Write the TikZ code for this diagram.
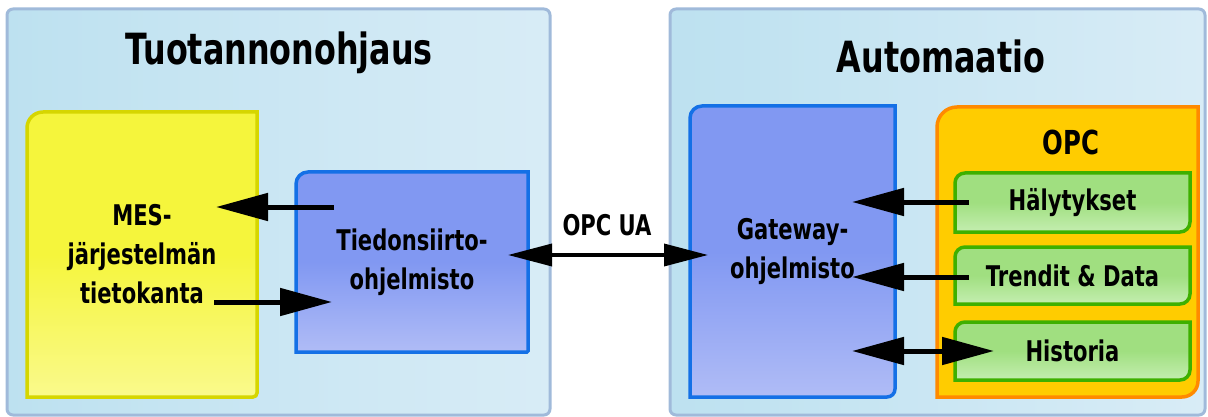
\documentclass[tikz,border=0pt]{standalone}
\usepackage{fontspec}
\setmainfont{DejaVu Sans}[FakeStretch=0.74]
\usetikzlibrary{arrows.meta,positioning}

\definecolor{panelfill}{RGB}{189,225,240}
\definecolor{panellight}{RGB}{216,236,246}
\definecolor{paneledge}{RGB}{160,186,218}
\definecolor{mesfill}{RGB}{245,245,60}
\definecolor{meslight}{RGB}{250,250,140}
\definecolor{mesedge}{RGB}{214,214,0}
\definecolor{progfill}{RGB}{129,152,242}
\definecolor{proglight}{RGB}{176,188,246}
\definecolor{progedge}{RGB}{20,112,230}
\definecolor{opcfill}{RGB}{255,204,0}
\definecolor{opcedge}{RGB}{255,138,0}
\definecolor{grfill}{RGB}{160,223,128}
\definecolor{grlight}{RGB}{196,238,176}
\definecolor{gredge}{RGB}{62,176,0}

\pgfdeclarelayer{back}
\pgfdeclarelayer{boxes}
\pgfsetlayers{back,boxes,main}

% outline with rounded top left and bottom right corners
\newcommand{\tabbox}[4]{%
  \begin{pgfonlayer}{boxes}
  \draw[#2] (#1.south west) -- ([yshift=-#3]#1.north west) arc[start angle=180, end angle=90, radius=#3]
     -- (#1.north east) -- ([yshift=#4]#1.south east) arc[start angle=0, end angle=-90, radius=#4]
     -- cycle;
  \end{pgfonlayer}}

\tikzset{
  panel/.style={draw=paneledge, line width=3pt, rounded corners=6pt, left color=panelfill, right color=panellight,
    minimum height=406pt, outer sep=0pt},
  title/.style={font=\bfseries\fontsize{43}{50}\selectfont, anchor=base},
  box/.style={outer sep=0pt, inner sep=0pt, align=center, font=\bfseries\fontsize{28.5}{39}\selectfont},
  mesbox/.style={draw=mesedge, line width=3.5pt, top color=mesfill, bottom color=meslight, middle color=mesfill},
  progbox/.style={draw=progedge, line width=3.5pt, top color=progfill, bottom color=proglight, middle color=progfill},
  opcbox/.style={draw=opcedge, line width=3.5pt, fill=opcfill},
  grbox/.style={draw=gredge, line width=3.5pt, top color=grfill, bottom color=grlight, middle color=grfill},
  arw/.style={line width=5pt, -{Triangle[length=52pt,width=27pt]}},
  arws/.style={line width=5pt, {Triangle[length=52pt,width=27pt]}-{Triangle[length=52pt,width=27pt]}},
  uaarw/.style={line width=3.5pt, {Triangle[length=44pt,width=22pt]}-{Triangle[length=44pt,width=22pt]}}
}

\begin{document}
\begin{tikzpicture}[x=1pt, y=-1pt]
  \useasboundingbox (0,0) rectangle (1208,417);

  %panels
  \begin{pgfonlayer}{back}
    \node[panel, minimum width=543pt] (prod) at (278.5,212) {};
    \node[panel, minimum width=535pt] (auto) at (937.5,212) {};
  \end{pgfonlayer}
  \node[title] (prodtitle) at (279,65) {Tuotannonohjaus};
  \node[title] (autotitle) at (941,73) {Automaatio};

  %left side
  \node[box, minimum width=230pt, minimum height=285pt] (mes) at (142,254.5) {MES-\\järjestelmän\\tietokanta};
  \node[box, minimum width=232pt, minimum height=180pt] (tied) at (412,262) {Tiedonsiirto-\\ohjelmisto};
  \tabbox{mes}{mesbox}{16pt}{4pt}
  \tabbox{tied}{progbox}{12pt}{1pt}

  %right side
  \node[box, minimum width=205pt, minimum height=291pt] (gate) at (792.5,251.5) {Gateway-\\ohjelmisto};
  \node[box, minimum width=261pt, minimum height=290pt] (opc) at (1067.5,252) {};
  \node[box, anchor=base, font=\bfseries\fontsize{33}{38}\selectfont] (opclbl) at (1071,155) {OPC};
  \node[box, minimum width=235pt, minimum height=59pt] (hal) at (1072.5,202.5) {Hälytykset};
  \node[box, minimum width=235pt, minimum height=57pt, below=15pt of hal] (tren) {Trendit \& Data};
  \node[box, minimum width=235pt, minimum height=58pt, below=18pt of tren] (hist) {Historia};
  \tabbox{gate}{progbox}{12pt}{8pt}
  \tabbox{opc}{opcbox}{20pt}{16pt}
  \tabbox{hal}{grbox}{10pt}{10pt}
  \tabbox{tren}{grbox}{10pt}{10pt}
  \tabbox{hist}{grbox}{10pt}{10pt}

  %arrow ends
  \coordinate (tiedout) at (334,207);
  \coordinate (mesin) at (216,207);
  \coordinate (mesout) at (214,302);
  \coordinate (tiedin) at (332,302);
  \coordinate (ualeft) at (508,255);
  \coordinate (uaright) at (708,255);
  \coordinate (halout) at (969,202);
  \coordinate (gatehal) at (852,202);
  \coordinate (trenout) at (969,277);
  \coordinate (gatetren) at (852,277);
  \coordinate (gatehist) at (852,351);
  \coordinate (histin) at (994,351);

  \draw[arw] (tiedout) -- (mesin);
  \draw[arw] (mesout) -- (tiedin);
  \draw[uaarw] (ualeft) -- (uaright);
  \node[box, anchor=base, font=\bfseries\fontsize{28.5}{34}\selectfont] (ualbl) at (607,235) {OPC UA};
  \draw[arw] (halout) -- (gatehal);
  \draw[arw] (trenout) -- (gatetren);
  \draw[arws] (gatehist) -- (histin);
\end{tikzpicture}
\end{document}
